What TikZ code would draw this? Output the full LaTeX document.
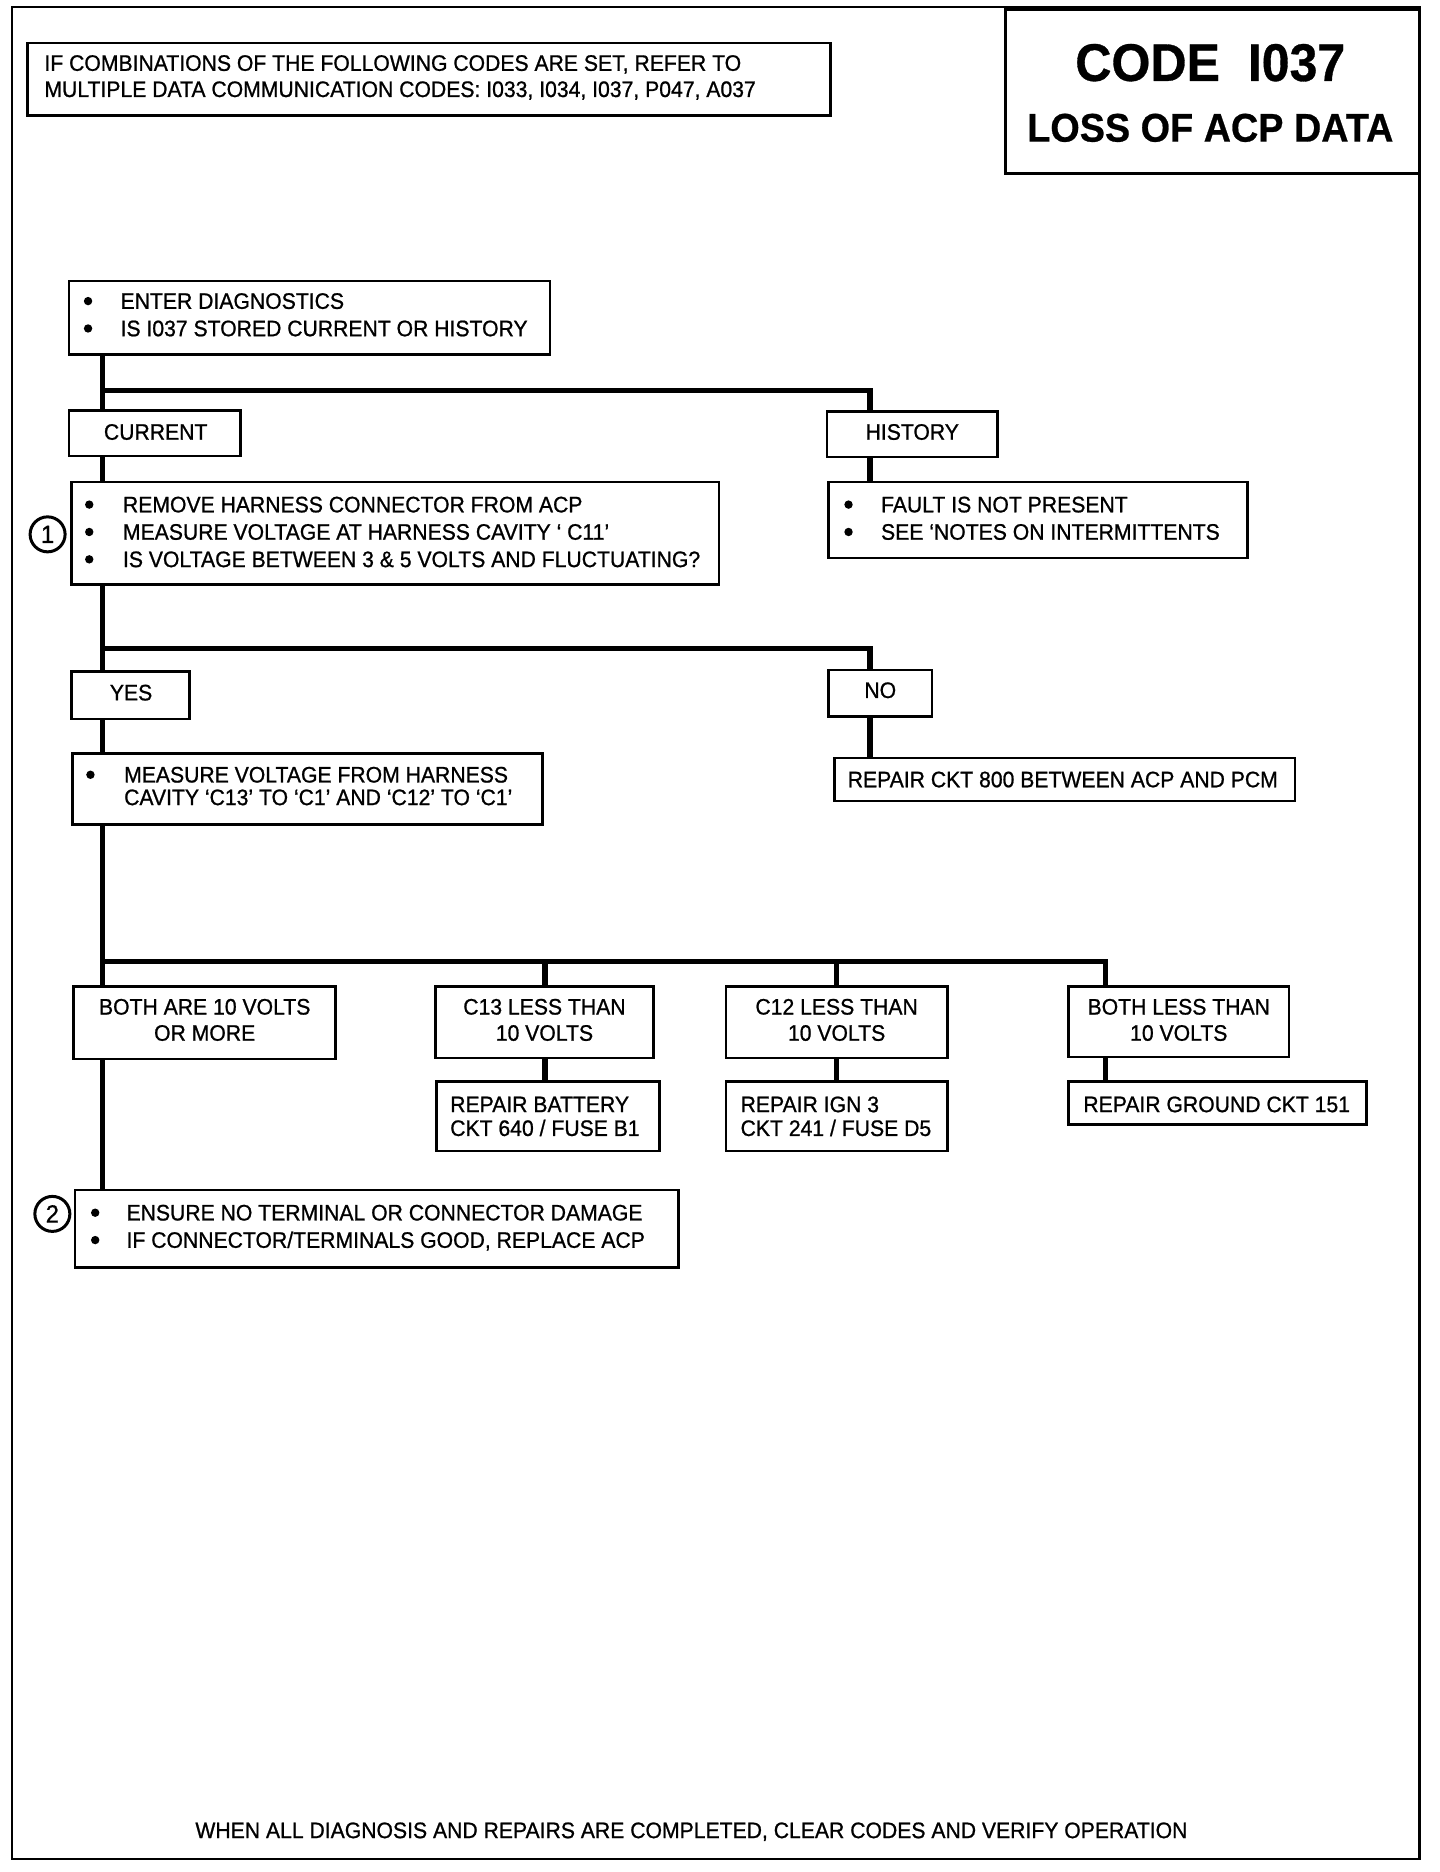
\documentclass[tikz,border=0pt]{standalone}
\usepackage{fontspec}
\setmainfont{Liberation Sans}[FakeStretch=0.945,UprightFeatures={FakeBold=0.9},BoldFeatures={FakeBold=0.6}]
\usetikzlibrary{fit}
\begin{document}
\begin{tikzpicture}[x=0.595pt,y=-0.595pt,
  flowbox/.style={draw,line width=1.3pt,inner sep=0pt},
  conn/.style={line width=2.7pt,line join=miter},
  txt/.style={inner sep=0pt,font=\fontsize{11.2}{13}\selectfont},
  ctxt/.style={txt,anchor=base},
  ltxt/.style={txt,anchor=base west},
  dot/.style={circle,fill,inner sep=0pt,minimum size=4.2pt},
  num/.style={circle,draw,line width=1.5pt,minimum size=17.5pt,inner sep=0pt,font=\fontsize{12.5}{13}\selectfont}]
\useasboundingbox (0,0) rectangle (1210,1573);
% outer frame
\draw[line width=1.3pt] (10,6) rectangle (1193,1562);
% title
\node[flowbox,fit={(845,8) (1193,146)}] (title) {};
\node[txt,anchor=base,font=\bfseries\fontsize{26.5}{30}\selectfont] (t1) at (1017,68) {CODE\ \ I037};
\node[txt,anchor=base,font=\bfseries\fontsize{20}{24}\selectfont] (t2) at (1017,119) {LOSS OF ACP DATA};
% note
\node[flowbox,fit={(23,36) (698,97)}] (note) {};
\node[ltxt] (n1) at (37,59.5) {IF COMBINATIONS OF THE FOLLOWING CODES ARE SET, REFER TO};
\node[ltxt] (n2) at (37,81.5) {MULTIPLE DATA COMMUNICATION CODES: I033, I034, I037, P047, A037};
% enter
\node[flowbox,fit={(58,236) (462,298)}] (enter) {};
\node[dot] (e1b) at (74,253) {};
\node[ltxt] (e1) at (101,259.5) {ENTER DIAGNOSTICS};
\node[dot] (e2b) at (74,276) {};
\node[ltxt] (e2) at (101,282.5) {IS I037 STORED CURRENT OR HISTORY};
% current / history
\node[flowbox,fit={(58,345) (202,383)}] (current) {};
\node[ltxt] (cu) at (87,369.5) {CURRENT};
\node[flowbox,fit={(695,346) (838,384)}] (history) {};
\node[ltxt] (hi) at (727,369.5) {HISTORY};
% remove
\node[flowbox,fit={(60,405) (604,491)}] (remove) {};
\node[dot] (r1b) at (75,424) {};
\node[ltxt] (r1) at (103,430.5) {REMOVE HARNESS CONNECTOR FROM ACP};
\node[dot] (r2b) at (75,447) {};
\node[ltxt] (r2) at (103,453.5) {MEASURE VOLTAGE AT HARNESS CAVITY ‘ C11’};
\node[dot] (r3b) at (75,470) {};
\node[ltxt] (r3) at (103,476.5) {IS VOLTAGE BETWEEN 3 \& 5 VOLTS AND FLUCTUATING?};
\node[num] (c1) at (40,449) {1};
% fault
\node[flowbox,fit={(696,405) (1048,469)}] (fault) {};
\node[dot] (f1b) at (713,424) {};
\node[ltxt] (f1) at (740,430.5) {FAULT IS NOT PRESENT};
\node[dot] (f2b) at (713,447) {};
\node[ltxt] (f2) at (740,453.5) {SEE ‘NOTES ON INTERMITTENTS};
% yes / no
\node[flowbox,fit={(60,564) (159,604)}] (yes) {};
\node[ltxt] (ye) at (92,588.5) {YES};
\node[flowbox,fit={(696,563) (783,602)}] (no) {};
\node[ltxt] (nt) at (726,586.5) {NO};
\node[flowbox,fit={(701,637) (1088,673)}] (ckt) {};
\node[ltxt] (ck) at (712,661.5) {REPAIR CKT 800 BETWEEN ACP AND PCM};
% measure
\node[flowbox,fit={(61,633) (456,693)}] (measure) {};
\node[dot] (m1b) at (76,651) {};
\node[ltxt] (m1) at (104,657.5) {MEASURE VOLTAGE FROM HARNESS};
\node[ltxt] (m2) at (104,676.5) {CAVITY ‘C13’ TO ‘C1’ AND ‘C12’ TO ‘C1’};
% results
\node[flowbox,fit={(62,829) (282,890)}] (both) {};
\node[ctxt] (b1) at (172,852.5) {BOTH ARE 10 VOLTS};
\node[ctxt] (b2) at (172,874.5) {OR MORE};
\node[flowbox,fit={(366,829) (549,889)}] (c13) {};
\node[ctxt] (c13a) at (457.5,852.5) {C13 LESS THAN};
\node[ctxt] (c13b) at (457.5,874.5) {10 VOLTS};
\node[flowbox,fit={(610,829) (796,889)}] (c12) {};
\node[ctxt] (c12a) at (703,852.5) {C12 LESS THAN};
\node[ctxt] (c12b) at (703,874.5) {10 VOLTS};
\node[flowbox,fit={(898,829) (1083,888)}] (bl) {};
\node[ctxt] (bla) at (990.5,852.5) {BOTH LESS THAN};
\node[ctxt] (blb) at (990.5,874.5) {10 VOLTS};
% repairs
\node[flowbox,fit={(367,909) (554,967)}] (bat) {};
\node[ltxt] (ba1) at (378,934.5) {REPAIR BATTERY};
\node[ltxt] (ba2) at (378,954.5) {CKT 640 / FUSE B1};
\node[flowbox,fit={(610,909) (796,967)}] (ign) {};
\node[ltxt] (ig1) at (622,934.5) {REPAIR IGN 3};
\node[ltxt] (ig2) at (622,954.5) {CKT 241 / FUSE D5};
\node[flowbox,fit={(898,909) (1148,945)}] (gnd) {};
\node[ltxt] (gn) at (910,934.5) {REPAIR GROUND CKT 151};
% ensure
\node[flowbox,fit={(63,1000) (570,1065)}] (ensure) {};
\node[dot] (en1b) at (80,1019) {};
\node[ltxt] (en1) at (106,1025.5) {ENSURE NO TERMINAL OR CONNECTOR DAMAGE};
\node[dot] (en2b) at (80,1042) {};
\node[ltxt] (en2) at (106,1048.5) {IF CONNECTOR/TERMINALS GOOD, REPLACE ACP};
\node[num] (c2) at (44,1020) {2};
% bottom
\node[ctxt] (foot) at (581,1544.5) {WHEN ALL DIAGNOSIS AND REPAIRS ARE COMPLETED, CLEAR CODES AND VERIFY OPERATION};
% connectors
\coordinate (tx) at (86,0);
\coordinate (hx) at (731,0);
\coordinate (j1) at (86,328);
\coordinate (j2) at (86,545);
\coordinate (j3) at (86,808);
\draw[conn] (enter.south -| tx) -- (current.north -| tx);
\draw[conn] (j1) -| (history.north -| hx);
\draw[conn] (current.south -| tx) -- (remove.north -| tx);
\draw[conn] (history.south -| hx) -- (fault.north -| hx);
\draw[conn] (remove.south -| tx) -- (yes.north -| tx);
\draw[conn] (j2) -| (no.north -| hx);
\draw[conn] (no.south -| hx) -- (ckt.north -| hx);
\draw[conn] (yes.south -| tx) -- (measure.north -| tx);
\draw[conn] (measure.south -| tx) -- (both.north -| tx);
\coordinate (x13) at (458,0);
\coordinate (x12) at (703,0);
\coordinate (xbl) at (929,0);
\draw[conn] (j3) -| (bl.north -| xbl);
\draw[conn] (c13.north -| x13) -- (j3 -| x13);
\draw[conn] (c12.north -| x12) -- (j3 -| x12);
\draw[conn] (c13.south -| x13) -- (bat.north -| x13);
\draw[conn] (c12.south -| x12) -- (ign.north -| x12);
\draw[conn] (bl.south -| xbl) -- (gnd.north -| xbl);
\draw[conn] (both.south -| tx) -- (ensure.north -| tx);
\end{tikzpicture}
\end{document}
